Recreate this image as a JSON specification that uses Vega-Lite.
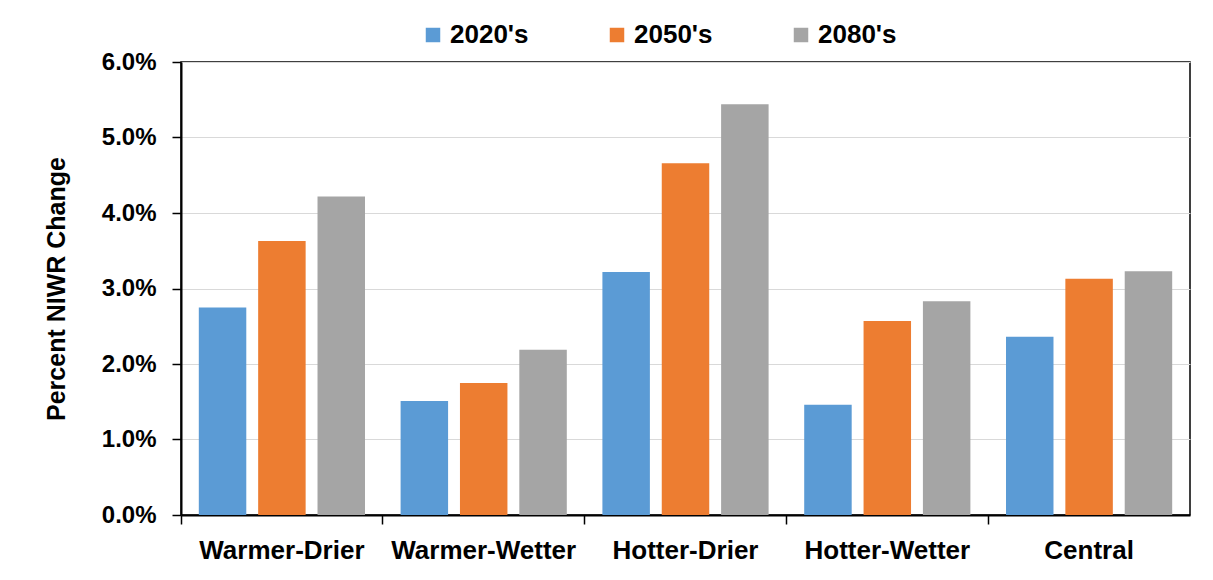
{
  "$schema": "https://vega.github.io/schema/vega-lite/v6.json",
  "width": 1009,
  "height": 453,
  "autosize": {"type": "none"},
  "padding": {"left": 181, "top": 62, "right": 23, "bottom": 65},
  "background": "white",
  "data": {
    "values": [
      {"scenario": "Warmer-Drier", "period": "2020's", "pct": 0.0275},
      {"scenario": "Warmer-Drier", "period": "2050's", "pct": 0.0363},
      {"scenario": "Warmer-Drier", "period": "2080's", "pct": 0.0422},
      {"scenario": "Warmer-Wetter", "period": "2020's", "pct": 0.0151},
      {"scenario": "Warmer-Wetter", "period": "2050's", "pct": 0.0175},
      {"scenario": "Warmer-Wetter", "period": "2080's", "pct": 0.0219},
      {"scenario": "Hotter-Drier", "period": "2020's", "pct": 0.0322},
      {"scenario": "Hotter-Drier", "period": "2050's", "pct": 0.0466},
      {"scenario": "Hotter-Drier", "period": "2080's", "pct": 0.0544},
      {"scenario": "Hotter-Wetter", "period": "2020's", "pct": 0.0146},
      {"scenario": "Hotter-Wetter", "period": "2050's", "pct": 0.0257},
      {"scenario": "Hotter-Wetter", "period": "2080's", "pct": 0.0283},
      {"scenario": "Central", "period": "2020's", "pct": 0.0236},
      {"scenario": "Central", "period": "2050's", "pct": 0.0313},
      {"scenario": "Central", "period": "2080's", "pct": 0.0323}
    ]
  },
  "mark": {"type": "bar"},
  "encoding": {
    "x": {
      "field": "scenario",
      "type": "nominal",
      "sort": ["Warmer-Drier", "Warmer-Wetter", "Hotter-Drier", "Hotter-Wetter", "Central"],
      "scale": {"paddingInner": 0, "paddingOuter": 0},
      "axis": {
        "title": null,
        "labelAngle": 0,
        "bandPosition": 0,
        "labelFont": "Liberation Sans",
        "labelFontSize": 26,
        "labelFontWeight": "bold",
        "labelColor": "black",
        "labelLimit": 0,
        "labelPadding": 13,
        "domainColor": "black",
        "domainWidth": 2,
        "tickColor": "black",
        "tickWidth": 1.5,
        "tickSize": 9,
        "grid": false
      }
    },
    "xOffset": {
      "field": "period",
      "type": "nominal",
      "scale": {"paddingInner": 0.2, "paddingOuter": 0.3}
    },
    "y": {
      "field": "pct",
      "type": "quantitative",
      "scale": {"domain": [0, 0.06]},
      "axis": {
        "title": "Percent NIWR Change",
        "titleFont": "Liberation Sans",
        "titleFontSize": 25,
        "titleFontWeight": "bold",
        "titleColor": "black",
        "titlePadding": 32,
        "format": ".1%",
        "values": [0, 0.01, 0.02, 0.03, 0.04, 0.05, 0.06],
        "labelFont": "Liberation Sans",
        "labelFontSize": 24,
        "labelFontWeight": "bold",
        "labelColor": "black",
        "labelPadding": 16,
        "domainColor": "black",
        "domainWidth": 2,
        "tickColor": "black",
        "tickWidth": 1.5,
        "tickSize": 9,
        "gridColor": "#d9d9d9",
        "gridWidth": 1
      }
    },
    "color": {
      "field": "period",
      "type": "nominal",
      "scale": {"domain": ["2020's", "2050's", "2080's"], "range": ["#5B9BD5", "#ED7D31", "#A5A5A5"]},
      "legend": {
        "title": null,
        "orient": "none",
        "direction": "horizontal",
        "legendX": 239,
        "legendY": -40,
        "padding": 0,
        "symbolType": "square",
        "symbolSize": 210,
        "symbolStrokeWidth": 0,
        "labelFont": "Liberation Sans",
        "labelFontSize": 26,
        "labelFontWeight": "bold",
        "labelColor": "black",
        "labelLimit": 0,
        "labelOffset": 4,
        "columnPadding": 75
      }
    }
  },
  "config": {
    "view": {"stroke": "black", "strokeWidth": 1.5}
  }
}
